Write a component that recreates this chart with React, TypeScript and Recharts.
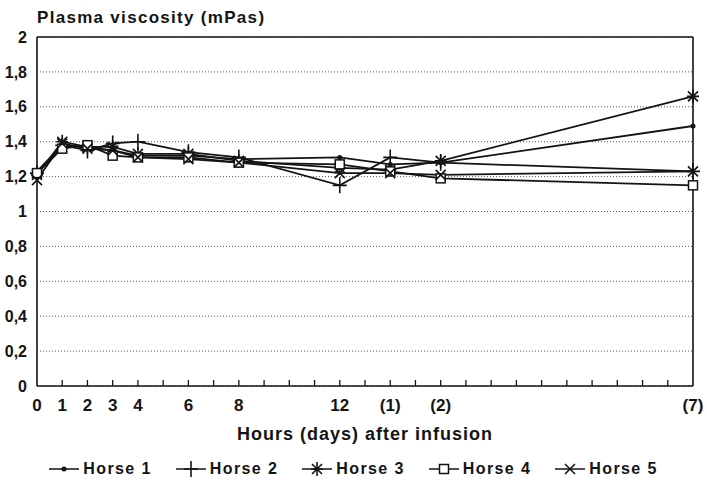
import React from "react";
import {
  CartesianGrid,
  Legend,
  Line,
  LineChart,
  ReferenceLine,
  XAxis,
  YAxis,
} from "recharts";

// time points on the axis scale (one unit per minor tick); last three are days
const hours = [0, 1, 2, 3, 4, 6, 8, 12, 14, 16, 26];
const hourLabels = ["0", "1", "2", "3", "4", "6", "8", "12", "(1)", "(2)", "(7)"];

const horse1 = [1.23, 1.38, 1.37, 1.35, 1.32, 1.32, 1.3, 1.31, 1.27, 1.28, 1.49];
const horse2 = [1.22, 1.38, 1.35, 1.39, 1.4, 1.34, 1.31, 1.15, 1.31, 1.28, 1.23];
const horse3 = [1.21, 1.4, 1.37, 1.37, 1.33, 1.33, 1.29, 1.25, 1.24, 1.29, 1.66];
const horse4 = [1.22, 1.36, 1.38, 1.32, 1.31, 1.31, 1.28, 1.27, 1.23, 1.19, 1.15];
const horse5 = [1.18, 1.39, 1.36, 1.35, 1.31, 1.3, 1.28, 1.22, 1.22, 1.21, 1.23];

const seriesNames = ["Horse 1", "Horse 2", "Horse 3", "Horse 4", "Horse 5"];
const yTicks = [0, 0.2, 0.4, 0.6, 0.8, 1, 1.2, 1.4, 1.6, 1.8, 2];
const xTickPositions = Array.from({ length: 27 }, (_, i) => i);

const data = hours.map((h, i) => ({
  x: h,
  h1: horse1[i],
  h2: horse2[i],
  h3: horse3[i],
  h4: horse4[i],
  h5: horse5[i],
}));

const series = [
  { key: "h1", shape: "dot" },
  { key: "h2", shape: "plus" },
  { key: "h3", shape: "star" },
  { key: "h4", shape: "square" },
  { key: "h5", shape: "x" },
];

const FONT = '"Liberation Sans", Arial, Helvetica, sans-serif';
const INK = "#141414";

const Marker = ({ shape, cx, cy }: { shape: string; cx: number; cy: number }) => {
  const s = { stroke: INK, strokeWidth: 1.6, fill: "none" };
  switch (shape) {
    case "dot":
      return <circle cx={cx} cy={cy} r={2.5} fill={INK} />;
    case "plus":
      return <path d={`M${cx - 7},${cy}H${cx + 7}M${cx},${cy - 8}V${cy + 8}`} {...s} />;
    case "star":
      return (
        <path
          d={`M${cx - 6},${cy}H${cx + 6}M${cx},${cy - 7}V${cy + 7}M${cx - 5},${cy - 5}L${cx + 5},${cy + 5}M${cx - 5},${cy + 5}L${cx + 5},${cy - 5}`}
          {...s}
        />
      );
    case "square":
      return <rect x={cx - 4.5} y={cy - 4.5} width={9} height={9} fill="#fff" stroke={INK} strokeWidth={1.5} />;
    default:
      return <path d={`M${cx - 5},${cy - 5}L${cx + 5},${cy + 5}M${cx - 5},${cy + 5}L${cx + 5},${cy - 5}`} {...s} />;
  }
};

const XTick = ({ x, y, payload }: any) => {
  const v = payload.value;
  const i = hours.indexOf(v);
  return (
    <g>
      {v > 0 && v < 26 && <line x1={x} x2={x} y1={y} y2={y - 6} stroke={INK} strokeWidth={1.3} />}
      {i >= 0 && (
        <text x={x} y={y + 25} textAnchor="middle" fill={INK} fontSize={17} fontWeight={700} fontFamily={FONT}>
          {hourLabels[i]}
        </text>
      )}
    </g>
  );
};

const LegendContent = () => (
  <div
    style={{
      display: "flex",
      justifyContent: "center",
      alignItems: "center",
      height: 30,
      fontFamily: FONT,
      fontWeight: 700,
      fontSize: 16,
      letterSpacing: 1.4,
      color: INK,
    }}
  >
    {series.map((s, i) => (
      <div key={s.key} style={{ display: "flex", alignItems: "center", marginRight: i < 4 ? 24 : 0 }}>
        <svg width={30} height={20}>
          <line x1={0} x2={30} y1={10} y2={10} stroke={INK} strokeWidth={1.5} />
          <Marker shape={s.shape} cx={15} cy={10} />
        </svg>
        <span style={{ marginLeft: 4 }}>{seriesNames[i]}</span>
      </div>
    ))}
  </div>
);

export default function App() {
  return (
    <div style={{ position: "absolute", left: 0, top: 0, width: 707, height: 484, background: "#fff" }}>
      <div
        style={{
          position: "absolute",
          left: 37,
          top: 7,
          lineHeight: "22px",
          fontFamily: FONT,
          fontWeight: 700,
          fontSize: 17,
          letterSpacing: 1.3,
          color: INK,
        }}
      >
        Plasma viscosity (mPas)
      </div>
      <LineChart width={707} height={484} data={data} margin={{ top: 37, right: 14, bottom: 0, left: 0 }}>
        <CartesianGrid vertical={false} stroke="#555" strokeDasharray="1 2" />
        <XAxis
          dataKey="x"
          type="number"
          domain={[0, 26]}
          ticks={xTickPositions}
          interval={0}
          height={68}
          tickSize={0}
          tickMargin={0}
          tickLine={false}
          tick={<XTick />}
          axisLine={{ stroke: INK, strokeWidth: 1.6 }}
          label={{
            value: "Hours (days) after infusion",
            position: "insideBottom",
            offset: 14,
            fill: INK,
            fontSize: 18,
            fontWeight: 700,
            fontFamily: FONT,
            letterSpacing: 1,
          }}
        />
        <YAxis
          type="number"
          domain={[0, 2]}
          ticks={yTicks}
          interval={0}
          width={37}
          tickLine={false}
          tickMargin={4}
          axisLine={{ stroke: INK, strokeWidth: 1.6 }}
          tickFormatter={(v: number) => String(v).replace(".", ",")}
          tick={{ fill: INK, fontSize: 16, fontWeight: 700, fontFamily: FONT }}
        />
        <ReferenceLine y={2} stroke={INK} strokeWidth={1.6} />
        <ReferenceLine x={26} stroke={INK} strokeWidth={1.6} />
        <Legend
          verticalAlign="bottom"
          height={30}
          content={<LegendContent />}
          wrapperStyle={{ left: 0, width: 707, bottom: 0 }}
        />
        {series.map((s, i) => (
          <Line
            key={s.key}
            dataKey={s.key}
            name={seriesNames[i]}
            type="linear"
            stroke={INK}
            strokeWidth={1.8}
            isAnimationActive={false}
            dot={(p: any) => <Marker key={`${s.key}-${p.index}`} shape={s.shape} cx={p.cx} cy={p.cy} />}
            activeDot={false}
          />
        ))}
      </LineChart>
    </div>
  );
}
